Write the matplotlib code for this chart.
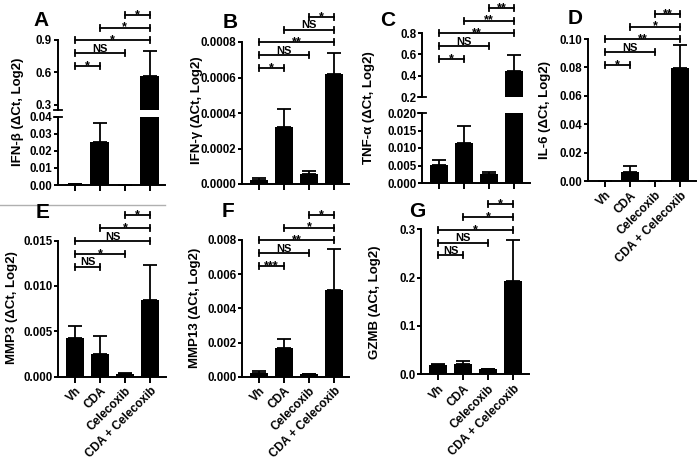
import matplotlib
matplotlib.use("Agg")
import matplotlib.pyplot as plt
import matplotlib.transforms as mtransforms
from matplotlib.ticker import FormatStrFormatter
from matplotlib.lines import Line2D

plt.rcParams['font.family'] = ['Liberation Sans', 'DejaVu Sans']
plt.rcParams['font.weight'] = 'bold'

# data
groups = ["Vh", "CDA", "Celecoxib", "CDA + Celecoxib"]
pairs = [(0, 1), (0, 2), (0, 3), (1, 3), (2, 3)]

ifnb_mean = [0.0003, 0.025, 0.0002, 0.565]
ifnb_err = [0.0, 0.0115, 0.0, 0.233]
ifng_mean = [0.000025, 0.00032, 0.000056, 0.00062]
ifng_err = [0.000007, 0.0001, 0.00002, 0.00012]
tnfa_mean = [0.0052, 0.0115, 0.0025, 0.446]
tnfa_err = [0.0014, 0.0049, 0.0007, 0.144]
il6_mean = [0.0003, 0.0061, 0.0002, 0.0795]
il6_err = [0.0, 0.0043, 0.0, 0.0163]
mmp3_mean = [0.00423, 0.00254, 0.00033, 0.00846]
mmp3_err = [0.0013, 0.0019, 0.00005, 0.0038]
mmp13_mean = [0.00023, 0.0017, 0.00016, 0.0051]
mmp13_err = [0.0001, 0.00048, 0.00002, 0.0024]
gzmb_mean = [0.020, 0.021, 0.0103, 0.193]
gzmb_err = [0.001, 0.0065, 0.0017, 0.085]

sig_a = ["*", "NS", "*", "*", "*"]
sig_b = ["*", "NS", "**", "NS", "*"]
sig_c = ["*", "NS", "**", "**", "**"]
sig_d = ["*", "NS", "**", "*", "**"]
sig_e = ["NS", "*", "NS", "*", "*"]
sig_f = ["***", "NS", "**", "*", "*"]
sig_g = ["NS", "NS", "*", "*", "*"]

W, H = 698, 459
fig = plt.figure(figsize=(W / 100, H / 100), dpi=100)
AXW = 107.5


def add_ax(x0, top, bot):
    ax = fig.add_axes([x0 / W, 1 - bot / H, AXW / W, (bot - top) / H])
    ax.patch.set_alpha(0)
    return ax


def style(ax, ylim, yticks, fmt, xaxis=True, labels=False):
    ax.set_xlim(-0.68, 3.62)
    ax.set_ylim(*ylim)
    ax.set_yticks(yticks)
    ax.yaxis.set_major_formatter(FormatStrFormatter(fmt))
    ax.spines['top'].set_visible(False)
    ax.spines['right'].set_visible(False)
    ax.spines['left'].set_linewidth(1.4)
    ax.spines['bottom'].set_linewidth(1.4)
    ax.tick_params(axis='y', length=3, width=1.4, labelsize=8.3, pad=1)
    ax.tick_params(axis='x', length=4, width=1.4, labelsize=8.5, pad=2)
    if xaxis:
        ax.set_xticks(range(4))
        if labels:
            ax.set_xticklabels(groups, rotation=45, ha='right', rotation_mode='anchor')
        else:
            ax.set_xticklabels([])
    else:
        ax.spines['bottom'].set_visible(False)
        ax.set_xticks([])


def bars(ax, mean, err):
    x = range(len(mean))
    ax.bar(x, mean, width=0.75, color='black', zorder=2)
    ax.errorbar(x, mean, yerr=[[0] * len(err), err], fmt='none', ecolor='black',
                elinewidth=1.3, capsize=5, capthick=1.3, zorder=1)


def brackets(ax, h_px, labels):
    tr = mtransforms.blended_transform_factory(ax.transData, ax.transAxes)
    d = 3 / h_px
    for k, ((i, j), lab) in enumerate(zip(pairs, labels)):
        y = 1 + (-26 + 12.8 * k) / h_px
        kw = dict(color='black', lw=1.3, transform=tr, clip_on=False)
        ax.plot([i, j], [y, y], **kw)
        ax.plot([i, i], [y - d, y + d], **kw)
        ax.plot([j, j], [y - d, y + d], **kw)
        off = -3.0 if lab.startswith('*') else 1.2
        size = 9 if lab.startswith('*') else 8
        ax.text((i + j) / 2, y + off / h_px, lab, transform=tr, ha='center',
                va='baseline', fontsize=size, fontweight='bold')


def break_marks(ax, yfrac):
    ax.plot([-4 / AXW, 4 / AXW], [yfrac, yfrac], color='black', lw=1.3,
            transform=ax.transAxes, clip_on=False)


def ylabel(x, y, text):
    fig.text(x / W, 1 - y / H, text, rotation=90, ha='center', va='center',
             fontsize=9.5, fontweight='bold')


def letter(x, y, text):
    fig.text(x / W, 1 - y / H, text, ha='center', va='center', fontsize=15,
             fontweight='bold')


# A: IFN-b (broken axis)
a_up = add_ax(57.5, 40, 110)
bars(a_up, ifnb_mean, ifnb_err)
style(a_up, (0.25, 0.9), [0.3, 0.6, 0.9], '%.1f', xaxis=False)
a_lo = add_ax(57.5, 116.7, 185)
bars(a_lo, ifnb_mean, ifnb_err)
style(a_lo, (0, 0.04), [0, 0.01, 0.02, 0.03, 0.04], '%.2f')
break_marks(a_up, 0)
break_marks(a_lo, 1)
brackets(a_up, 70, sig_a)
ylabel(18, 112, "IFN-β (ΔCt, Log2)")
letter(41, 21, "A")

# B: IFN-g
b = add_ax(242, 42, 184)
bars(b, ifng_mean, ifng_err)
style(b, (0, 0.0008), [0, 0.0002, 0.0004, 0.0006, 0.0008], '%.4f')
brackets(b, 142, sig_b)
ylabel(197, 110, "IFN-γ (ΔCt, Log2)")
letter(230, 22, "B")

# C: TNF-a (broken axis)
c_up = add_ax(422, 33, 97)
bars(c_up, tnfa_mean, tnfa_err)
style(c_up, (0.2, 0.8), [0.2, 0.4, 0.6, 0.8], '%.1f', xaxis=False)
c_lo = add_ax(422, 113, 183)
bars(c_lo, tnfa_mean, tnfa_err)
style(c_lo, (0, 0.02), [0, 0.005, 0.01, 0.015, 0.02], '%.3f')
break_marks(c_up, 0)
break_marks(c_lo, 1)
brackets(c_up, 64, sig_c)
ylabel(369, 108, "TNF-α (ΔCt, Log2)")
letter(388, 20, "C")

# D: IL-6
d = add_ax(588, 39, 181)
bars(d, il6_mean, il6_err)
style(d, (0, 0.10), [0, 0.02, 0.04, 0.06, 0.08, 0.10], '%.2f', labels=True)
brackets(d, 142, sig_d)
ylabel(545, 110, "IL-6 (ΔCt, Log2)")
letter(575, 18, "D")

# E: MMP3
e = add_ax(58, 240.5, 376.7)
bars(e, mmp3_mean, mmp3_err)
style(e, (0, 0.015), [0, 0.005, 0.01, 0.015], '%.3f', labels=True)
brackets(e, 136.2, sig_e)
ylabel(12, 308, "MMP3 (ΔCt, Log2)")
letter(43, 212, "E")

# F: MMP13
f = add_ax(242, 240, 376.7)
bars(f, mmp13_mean, mmp13_err)
style(f, (0, 0.008), [0, 0.002, 0.004, 0.006, 0.008], '%.3f', labels=True)
brackets(f, 136.7, sig_f)
ylabel(195, 308, "MMP13 (ΔCt, Log2)")
letter(228, 211, "F")

# G: GZMB
g = add_ax(421, 229.3, 374.3)
bars(g, gzmb_mean, gzmb_err)
style(g, (0, 0.3), [0, 0.1, 0.2, 0.3], '%.1f', labels=True)
brackets(g, 145, sig_g)
ylabel(375, 302, "GZMB (ΔCt, Log2)")
letter(417, 211, "G")

fig.add_artist(Line2D([0, 165 / W], [1 - 205.5 / H] * 2, color='#b0b0b0', lw=1))

fig.savefig("out.png", dpi=100)
